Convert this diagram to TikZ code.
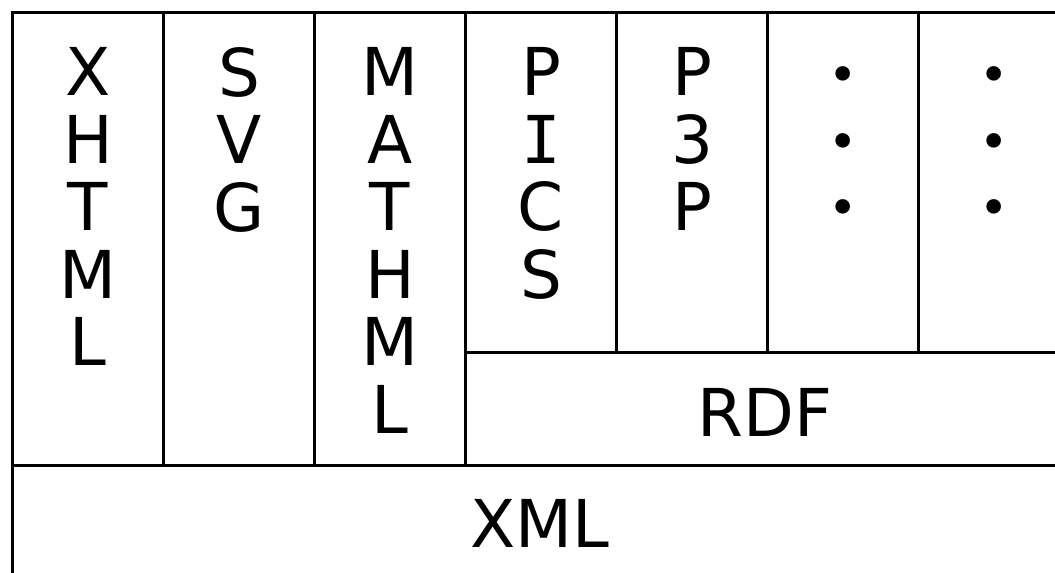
\documentclass[tikz,border=0pt]{standalone}
\usepackage{fontspec}
\setmainfont{DejaVu Sans}
\newfontfamily\serifI{DejaVu Sans Mono}
\usetikzlibrary{positioning}
\begin{document}
\begin{tikzpicture}[x=0.5pt, y=-0.5pt,
    layer/.style={draw, line width=1.5pt, inner sep=0pt, anchor=north west, minimum width=75.5pt},
    letters/.style={inner sep=0pt, align=center, font=\fontsize{33}{33.75}\selectfont},
    dots/.style={inner sep=0pt, align=center, font=\fontsize{25}{33.4}\selectfont}]
    \useasboundingbox (0,0) rectangle (1055,573);
    % Vertical columns
    \node[layer, minimum height=226.5pt] (xhtml) at (11,11) {};
    \node[layer, minimum height=226.5pt] (svg) at (162,11) {};
    \node[layer, minimum height=226.5pt] (mathml) at (313,11) {};
    \node[layer, minimum height=170pt] (pics) at (464,11) {};
    \node[layer, minimum height=170pt] (ppp) at (615,11) {};
    \node[layer, minimum height=170pt] (more1) at (766,11) {};
    \node[layer, minimum height=170pt] (more2) at (917,11) {};
    % Base layers
    \node[layer, minimum width=302pt, minimum height=56.5pt] (rdf) at (464,351) {};
    \node[layer, minimum width=528.5pt, minimum height=60pt] (xml) at (11,464) {};
    % Labels
    \node[letters, below=18pt of xhtml.north] (xhtmltext) {X\\H\\T\\M\\L};
    \node[letters, below=18pt of svg.north] (svgtext) {S\\V\\G};
    \node[letters, below=18pt of mathml.north] (mathmltext) {M\\A\\T\\H\\M\\L};
    \node[letters, below=18pt of pics.north] (picstext) {P\\{\serifI I}\\C\\S};
    \node[letters, below=18pt of ppp.north] (ppptext) {P\\3\\P};
    \node[dots, below=27.5pt of more1.north] (more1text) {∙\\∙\\∙};
    \node[dots, below=27.5pt of more2.north] (more2text) {∙\\∙\\∙};
    \node[letters, anchor=base] (rdftext) at (765,436) {RDF};
    \node[letters, anchor=base] (xmltext) at (540,547) {XML};
\end{tikzpicture}
\end{document}
